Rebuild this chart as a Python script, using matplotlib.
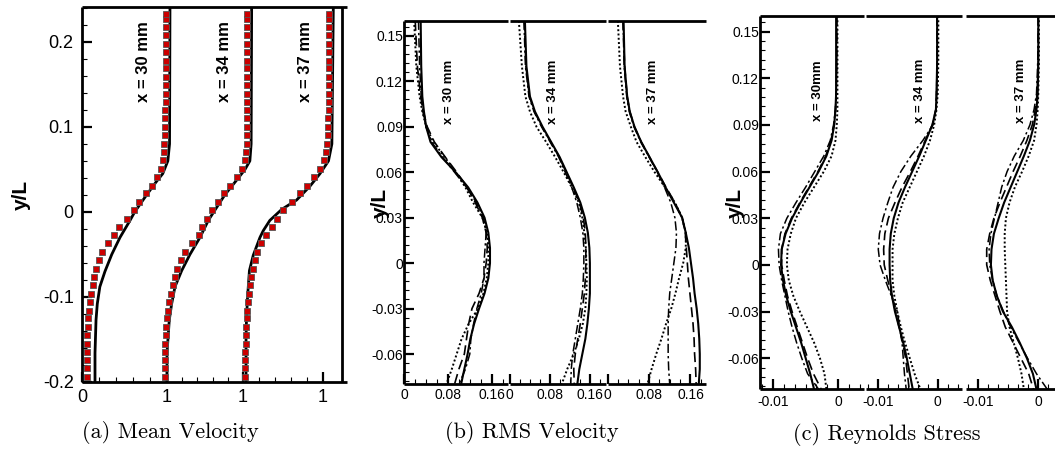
import numpy as np
import matplotlib
matplotlib.use("Agg")
import matplotlib.pyplot as plt
from matplotlib.ticker import FixedLocator, MultipleLocator, FuncFormatter

plt.rcParams['font.family'] = ['Liberation Sans', 'DejaVu Sans']
plt.rcParams['axes.unicode_minus'] = False

# ---------------- data: (a) mean velocity (plotted, stations offset) ----------------
mean_y_exp = [-0.194, -0.184, -0.174, -0.165, -0.155, -0.145, -0.135, -0.125, -0.116, -0.106,
              -0.096, -0.086, -0.076, -0.067, -0.057, -0.047, -0.037, -0.027, -0.018, -0.008,
              0.002, 0.012, 0.022, 0.031, 0.041, 0.051, 0.061, 0.071, 0.080, 0.090,
              0.100, 0.110, 0.120, 0.129, 0.139, 0.149, 0.159, 0.169, 0.178, 0.188,
              0.198, 0.208, 0.218, 0.227, 0.233]
mean_exp_30 = [0.055, 0.055, 0.056, 0.057, 0.060, 0.064, 0.069, 0.076, 0.084, 0.096,
               0.108, 0.124, 0.145, 0.170, 0.198, 0.240, 0.305, 0.375, 0.440, 0.530,
               0.610, 0.672, 0.752, 0.825, 0.885, 0.925, 0.950, 0.962, 0.970, 0.975,
               0.978, 0.980, 0.982, 0.983, 0.984, 0.985, 0.985, 0.985, 0.986, 0.986,
               0.986, 0.986, 0.986, 0.986, 0.986]
mean_exp_34 = [0.976, 0.976, 0.977, 0.978, 0.980, 0.985, 0.992, 1.002, 1.015, 1.028,
               1.045, 1.066, 1.095, 1.122, 1.162, 1.215, 1.295, 1.375, 1.415, 1.465,
               1.535, 1.600, 1.675, 1.745, 1.820, 1.878, 1.915, 1.930, 1.936, 1.940,
               1.942, 1.943, 1.943, 1.944, 1.944, 1.944, 1.945, 1.945, 1.945, 1.945,
               1.945, 1.945, 1.945, 1.945, 1.945]
mean_exp_37 = [1.918, 1.918, 1.919, 1.920, 1.924, 1.930, 1.934, 1.939, 1.945, 1.952,
               1.962, 1.977, 1.994, 2.012, 2.030, 2.055, 2.110, 2.170, 2.240, 2.300,
               2.365, 2.470, 2.565, 2.645, 2.730, 2.800, 2.845, 2.872, 2.885, 2.893,
               2.898, 2.900, 2.902, 2.903, 2.904, 2.905, 2.906, 2.907, 2.908, 2.908,
               2.909, 2.909, 2.910, 2.910, 2.910]

mean_y_sim_30 = [-0.2, -0.166, -0.127, -0.108, -0.088, -0.07, -0.05, -0.03, -0.01, 0.0,
                 0.02, 0.035, 0.045, 0.06, 0.08, 0.241]
mean_sim_30 = [0.153, 0.153, 0.165, 0.18, 0.21, 0.27, 0.35, 0.447, 0.565, 0.62,
               0.76, 0.87, 0.95, 1.01, 1.03, 1.035]
mean_y_sim_34 = [-0.2, -0.166, -0.127, -0.108, -0.088, -0.069, -0.05, -0.03, -0.01, 0.0,
                 0.02, 0.04, 0.05, 0.06, 0.08, 0.241]
mean_sim_34 = [1.0, 1.0, 1.027, 1.055, 1.094, 1.173, 1.27, 1.388, 1.486, 1.55,
               1.68, 1.84, 1.918, 1.975, 1.99, 1.996]
mean_y_sim_37 = [-0.2, -0.15, -0.127, -0.1, -0.069, -0.051, -0.03, -0.022, -0.01, 0.003,
                 0.014, 0.03, 0.045, 0.06, 0.08, 0.241]
mean_sim_37 = [1.93, 1.93, 1.935, 1.948, 1.97, 2.015, 2.094, 2.133, 2.21, 2.35,
               2.525, 2.68, 2.8, 2.9, 2.94, 2.957]

mean_xticks = [0, 1, 1.894, 2.835]
mean_xticklabels = ['0', '1', '1', '1']
stations = ['x = 30 mm', 'x = 34 mm', 'x = 37 mm']

# ---------------- data: profiles for (b) and (c) ----------------
prof_y = [0.16, 0.13, 0.11, 0.10, 0.09, 0.08, 0.07, 0.06, 0.05, 0.04, 0.03,
          0.02, 0.01, 0.00, -0.01, -0.02, -0.03, -0.04, -0.05, -0.06, -0.07, -0.08]

# RMS velocity: [solid, dashed, dashdot, dotted] per station
rms_30_solid = [0.030, 0.031, 0.033, 0.036, 0.040, 0.048, 0.068, 0.094, 0.117, 0.134, 0.147,
                0.154, 0.157, 0.157, 0.154, 0.147, 0.137, 0.128, 0.121, 0.116, 0.110, 0.104]
rms_30_dash = [0.020, 0.024, 0.030, 0.035, 0.042, 0.055, 0.075, 0.096, 0.115, 0.130, 0.143,
               0.150, 0.152, 0.150, 0.146, 0.137, 0.124, 0.118, 0.114, 0.110, 0.100, 0.092]
rms_30_dashdot = [0.026, 0.028, 0.031, 0.034, 0.040, 0.050, 0.070, 0.092, 0.114, 0.132, 0.145,
                  0.150, 0.148, 0.146, 0.146, 0.141, 0.133, 0.127, 0.122, 0.120, 0.112, 0.100]
rms_30_dot = [0.018, 0.022, 0.028, 0.033, 0.040, 0.053, 0.074, 0.094, 0.112, 0.126, 0.143,
              0.152, 0.154, 0.154, 0.151, 0.145, 0.135, 0.118, 0.105, 0.096, 0.087, 0.077]

rms_34_solid = [0.030, 0.033, 0.040, 0.050, 0.065, 0.082, 0.099, 0.113, 0.127, 0.140, 0.149,
                0.155, 0.158, 0.159, 0.159, 0.159, 0.157, 0.154, 0.150, 0.144, 0.138, 0.134]
rms_34_dash = [0.029, 0.032, 0.039, 0.049, 0.064, 0.081, 0.098, 0.112, 0.126, 0.138, 0.146,
               0.150, 0.151, 0.151, 0.150, 0.148, 0.144, 0.140, 0.135, 0.130, 0.127, 0.128]
rms_34_dashdot = [0.028, 0.031, 0.038, 0.048, 0.063, 0.080, 0.097, 0.110, 0.123, 0.133, 0.140,
                  0.145, 0.147, 0.147, 0.146, 0.144, 0.140, 0.135, 0.130, 0.125, 0.122, 0.121]
rms_34_dot = [0.018, 0.024, 0.031, 0.040, 0.053, 0.072, 0.090, 0.107, 0.123, 0.137, 0.144,
              0.148, 0.151, 0.152, 0.153, 0.152, 0.150, 0.145, 0.137, 0.127, 0.114, 0.103]

rms_37_solid = [0.031, 0.033, 0.038, 0.043, 0.052, 0.065, 0.081, 0.097, 0.112, 0.128, 0.144,
                0.151, 0.157, 0.161, 0.165, 0.168, 0.172, 0.175, 0.177, 0.178, 0.178, 0.176]
rms_37_dash = [0.030, 0.033, 0.038, 0.043, 0.052, 0.065, 0.081, 0.097, 0.113, 0.130, 0.144,
               0.150, 0.152, 0.154, 0.156, 0.159, 0.162, 0.165, 0.167, 0.168, 0.170, 0.171]
rms_37_dashdot = [0.030, 0.032, 0.037, 0.042, 0.051, 0.064, 0.080, 0.096, 0.110, 0.122, 0.130,
                  0.133, 0.132, 0.128, 0.124, 0.120, 0.118, 0.117, 0.117, 0.117, 0.118, 0.120]
rms_37_dot = [0.020, 0.024, 0.030, 0.035, 0.045, 0.056, 0.073, 0.091, 0.111, 0.130, 0.144,
              0.151, 0.151, 0.146, 0.138, 0.131, 0.123, 0.113, 0.104, 0.094, 0.085, 0.077]

# Reynolds stress
rs_30_solid = [-0.0003, -0.0003, -0.0003, -0.0004, -0.0006, -0.0010, -0.0018, -0.0030, -0.0044, -0.0058, -0.0071,
               -0.0081, -0.0087, -0.0088, -0.0085, -0.0080, -0.0073, -0.0065, -0.0057, -0.0050, -0.0043, -0.0037]
rs_30_dash = [-0.0002, -0.0002, -0.0003, -0.0004, -0.0006, -0.0011, -0.0019, -0.0031, -0.0045, -0.0059, -0.0072,
              -0.0082, -0.0087, -0.0087, -0.0083, -0.0078, -0.0071, -0.0063, -0.0055, -0.0047, -0.0038, -0.0026]
rs_30_dashdot = [-0.0002, -0.0002, -0.0003, -0.0004, -0.0007, -0.0012, -0.0022, -0.0036, -0.0050, -0.0065, -0.0079,
                 -0.0089, -0.0092, -0.0091, -0.0087, -0.0082, -0.0077, -0.0071, -0.0064, -0.0056, -0.0047, -0.0030]
rs_30_dot = [-0.0001, -0.0001, -0.0001, -0.0001, -0.0002, -0.0004, -0.0010, -0.0022, -0.0037, -0.0052, -0.0065,
             -0.0073, -0.0078, -0.0079, -0.0076, -0.0069, -0.0059, -0.0048, -0.0037, -0.0028, -0.0021, -0.0018]

rs_34_solid = [-0.0001, -0.0001, -0.0002, -0.0003, -0.0009, -0.0020, -0.0031, -0.0043, -0.0055, -0.0066, -0.0074,
               -0.0079, -0.0081, -0.0081, -0.0080, -0.0077, -0.0072, -0.0065, -0.0058, -0.0052, -0.0047, -0.0042]
rs_34_dash = [-0.0001, -0.0001, -0.0002, -0.0003, -0.0009, -0.0021, -0.0033, -0.0046, -0.0060, -0.0072, -0.0083,
              -0.0089, -0.0091, -0.0090, -0.0084, -0.0077, -0.0071, -0.0065, -0.0059, -0.0054, -0.0051, -0.0048]
rs_34_dashdot = [-0.0001, -0.0001, -0.0002, -0.0003, -0.0008, -0.0025, -0.0045, -0.0062, -0.0075, -0.0084, -0.0092,
                 -0.0098, -0.0100, -0.0097, -0.0088, -0.0078, -0.0068, -0.0064, -0.0060, -0.0058, -0.0056, -0.0053]
rs_34_dot = [0.0001, 0.0001, 0.0000, -0.0002, -0.0006, -0.0013, -0.0023, -0.0035, -0.0047, -0.0059, -0.0067,
             -0.0073, -0.0076, -0.0076, -0.0076, -0.0073, -0.0068, -0.0062, -0.0055, -0.0047, -0.0039, -0.0029]

rs_37_solid = [0.0000, 0.0000, -0.0001, -0.0003, -0.0007, -0.0014, -0.0024, -0.0035, -0.0046, -0.0057, -0.0066,
               -0.0074, -0.0078, -0.0079, -0.0076, -0.0069, -0.0059, -0.0044, -0.0031, -0.0019, -0.0009, -0.0003]
rs_37_dash = [0.0000, 0.0000, -0.0002, -0.0005, -0.0010, -0.0019, -0.0030, -0.0042, -0.0053, -0.0064, -0.0074,
              -0.0081, -0.0086, -0.0086, -0.0080, -0.0072, -0.0064, -0.0055, -0.0042, -0.0029, -0.0016, -0.0008]
rs_37_dashdot = [0.0000, -0.0001, -0.0003, -0.0007, -0.0014, -0.0025, -0.0040, -0.0052, -0.0061, -0.0067, -0.0073,
                 -0.0079, -0.0082, -0.0081, -0.0076, -0.0069, -0.0058, -0.0046, -0.0032, -0.0018, -0.0003, 0.0015]
rs_37_dot = [0.0001, 0.0001, 0.0000, -0.0001, -0.0003, -0.0007, -0.0016, -0.0027, -0.0039, -0.0048, -0.0054,
             -0.0056, -0.0056, -0.0055, -0.0054, -0.0053, -0.0052, -0.0048, -0.0041, -0.0034, -0.0028, -0.0024]

rms_sets = [(rms_30_solid, rms_30_dash, rms_30_dashdot, rms_30_dot),
            (rms_34_solid, rms_34_dash, rms_34_dashdot, rms_34_dot),
            (rms_37_solid, rms_37_dash, rms_37_dashdot, rms_37_dot)]
rs_sets = [(rs_30_solid, rs_30_dash, rs_30_dashdot, rs_30_dot),
           (rs_34_solid, rs_34_dash, rs_34_dashdot, rs_34_dot),
           (rs_37_solid, rs_37_dash, rs_37_dashdot, rs_37_dot)]
stations_c = ['x = 30mm', 'x = 34 mm', 'x = 37 mm']

# ---------------- figure ----------------
W, H = 1055, 449
fig = plt.figure(figsize=(W / 100, H / 100), dpi=100)


def px_axes(left, top, right, bottom):
    return fig.add_axes([left / W, 1 - bottom / H, (right - left) / W, (bottom - top) / H])


SPINE_LW = 2.0
styles = [dict(ls='-', lw=1.5), dict(ls=(0, (6, 3)), lw=1.2),
          dict(ls=(0, (6, 2, 1.5, 2)), lw=1.1), dict(ls=(0, (1, 1.2)), lw=1.4)]


def style_ticks(ax, size, xpad, ypad):
    ax.tick_params(which='major', direction='in', length=7, width=1.6, labelsize=size)
    ax.tick_params(which='minor', direction='in', length=3.5, width=0.8)
    ax.tick_params(axis='x', which='both', pad=xpad, top=False)
    ax.tick_params(axis='y', which='both', pad=ypad, right=False)
    for s in ax.spines.values():
        s.set_linewidth(SPINE_LW)
        s.set_capstyle('butt')


def yfmt(v, pos):
    return '0' if abs(v) < 1e-9 else f'{v:g}'


def yfmt2(v, pos):
    return '0' if abs(v) < 1e-9 else f'{v:.2f}'


# ---- (a) Mean velocity ----
axa = px_axes(82, 7, 347, 382)
axa.set_xlim(0, 3.118)
axa.set_ylim(-0.2, 0.241)
for xs, ys in [(mean_sim_30, mean_y_sim_30), (mean_sim_34, mean_y_sim_34), (mean_sim_37, mean_y_sim_37)]:
    axa.plot(xs, ys, color='black', lw=2.0, solid_capstyle='butt')
for xs in [mean_exp_30, mean_exp_34, mean_exp_37]:
    axa.plot(xs, mean_y_exp, ls='none', marker='s', ms=5.0, mfc='#cc0000',
             mec='#555555', mew=0.6)
axa.xaxis.set_major_locator(FixedLocator(mean_xticks))
axa.set_xticklabels(mean_xticklabels)
axa.xaxis.set_minor_locator(FixedLocator([0.2, 0.4, 0.6, 0.8, 1.179, 1.358, 1.536, 1.715,
                                          2.082, 2.27, 2.459, 2.647]))
axa.yaxis.set_major_locator(FixedLocator([-0.2, -0.1, 0.0, 0.1, 0.2]))
axa.yaxis.set_minor_locator(MultipleLocator(0.02))
axa.yaxis.set_major_formatter(FuncFormatter(yfmt))
style_ticks(axa, 13, 5, 6)
axa.spines['right'].set_position(('data', 3.06))
for lab, xp in zip(stations, [0.718, 1.682, 2.635]):
    axa.text(xp, 0.1765, lab, rotation=90, ha='center', va='center',
             fontsize=12, fontweight='bold')
fig.text(21 / W, 1 - 195 / H, 'y/L', rotation=90, ha='center', va='center',
         fontsize=15, fontweight='bold')


def profile_panel(boxes, xlims, sets, labels, label_x, label_y, xmajor, xminor, fmt,
                  xpad, top, bottom):
    axes = []
    for i, (l, r) in enumerate(boxes):
        ax = px_axes(l, top, r, bottom)
        ax.set_xlim(*xlims)
        ax.set_ylim(-0.08, 0.16)
        for data, st in zip(sets[i], styles):
            ax.plot(data, prof_y, color='black', **st)
        ax.xaxis.set_major_locator(FixedLocator(xmajor))
        ax.xaxis.set_minor_locator(MultipleLocator(xminor))
        ax.xaxis.set_major_formatter(FuncFormatter(fmt))
        ax.yaxis.set_major_locator(FixedLocator([-0.06, -0.03, 0.0, 0.03, 0.06, 0.09, 0.12, 0.15]))
        ax.yaxis.set_minor_locator(MultipleLocator(0.006))
        ax.yaxis.set_major_formatter(FuncFormatter(yfmt2))
        style_ticks(ax, 10, xpad, 1)
        ax.spines['right'].set_visible(False)
        if i > 0:
            ax.spines['left'].set_visible(False)
            ax.tick_params(axis='y', which='both', left=False, labelleft=False)
        ax.text(label_x[i], label_y, labels[i], rotation=90, ha='center', va='center',
                fontsize=9.5, fontweight='bold')
        ax.patch.set_alpha(0)
        axes.append(ax)
    return axes


def xfmt_b(v, pos):
    return '0' if abs(v) < 1e-9 else f'{v:.2f}'


def xfmt_c(v, pos):
    return '0' if abs(v) < 1e-9 else f'{v:.2f}'.rstrip('0')


# ---- (b) RMS velocity ----
profile_panel([(404.3, 508.0), (509.8, 605.5), (607.5, 706.0)], (0, 0.19), rms_sets, stations,
              [0.0817, 0.0867, 0.0885], 0.113, [0, 0.08, 0.16], 0.02, xfmt_b, 2.5, 20.7, 384.3)
fig.text(380 / W, 1 - 203 / H, 'y/L', rotation=90, ha='center', va='center',
         fontsize=15, fontweight='bold')

# ---- (c) Reynolds stress ----
profile_panel([(760.3, 864.0), (866.4, 961.5), (966.3, 1062.3)], (-0.012, 0.004), rs_sets, stations_c,
              [-0.00303, -0.00297, -0.0028], 0.112, [-0.01, 0.0], 0.01 / 6, xfmt_c, 4, 16, 389.3)
fig.text(735 / W, 1 - 203 / H, 'y/L', rotation=90, ha='center', va='center',
         fontsize=15, fontweight='bold')

# ---- captions ----
for txt, xc, yc in [('(a) Mean Velocity', 170, 433), ('(b) RMS Velocity', 531.7, 433),
                    ('(c) Reynolds Stress', 886.7, 435)]:
    fig.text(xc / W, 1 - yc / H, txt, ha='center', va='center', fontsize=16, family='cmr10')

fig.savefig('out.png', dpi=100)
